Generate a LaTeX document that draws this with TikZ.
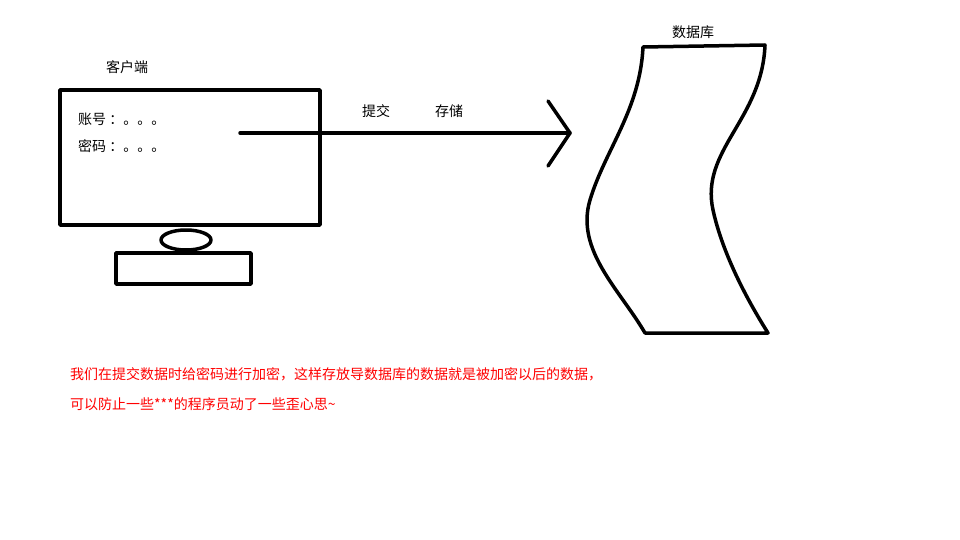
\documentclass[tikz,border=0pt]{standalone}
\usepackage{fontspec}
\setmainfont{Noto Sans CJK SC}
\begin{document}
\begin{tikzpicture}[x=1pt,y=-1pt,
  thick/.style={line width=3.5pt,line cap=round,line join=round},
  lbl/.style={font=\fontsize{14}{16}\selectfont,inner sep=0pt},
  note/.style={lbl,anchor=west,text=red}]
\useasboundingbox (0,0) rectangle (960,540);
\draw[thick] (60,90) rectangle (320,225);
\draw[thick] (186,240) ellipse [x radius=25,y radius=10];
\draw[thick] (116,253) rectangle (251,284);
\coordinate (s) at (240,133);
\coordinate (t) at (570,133);
\draw[thick] (s) -- (t);
\draw[thick] (548,101) -- (t) -- (548,166);
\draw[thick] (643,47) -- (765,45)
  .. controls (762,120) and (700,150) .. (713,210)
  .. controls (725,265) and (760,320) .. (768,333)
  -- (645,333)
  .. controls (620,290) and (575,250) .. (590,200)
  .. controls (605,150) and (640,110) .. (643,47);
\node[lbl] (c) at (127,67) {客户端};
\node[lbl] (d) at (693,32) {数据库};
\node[lbl] (p) at (376,111) {提交};
\node[lbl] (q) at (449,111) {存储};
\node[lbl,anchor=west] (a) at (78,119) {账号 ：。。。};
\node[lbl,anchor=west] (b) at (78,146) {密码 ：。。。};
\node[note] (n1) at (70,374) {我们在提交数据时给密码进行加密，这样存放导数据库的数据就是被加密以后的数据，};
\node[note] (n2) at (70,404) {可以防止一些***的程序员动了一些歪心思\textasciitilde};
\end{tikzpicture}
\end{document}
